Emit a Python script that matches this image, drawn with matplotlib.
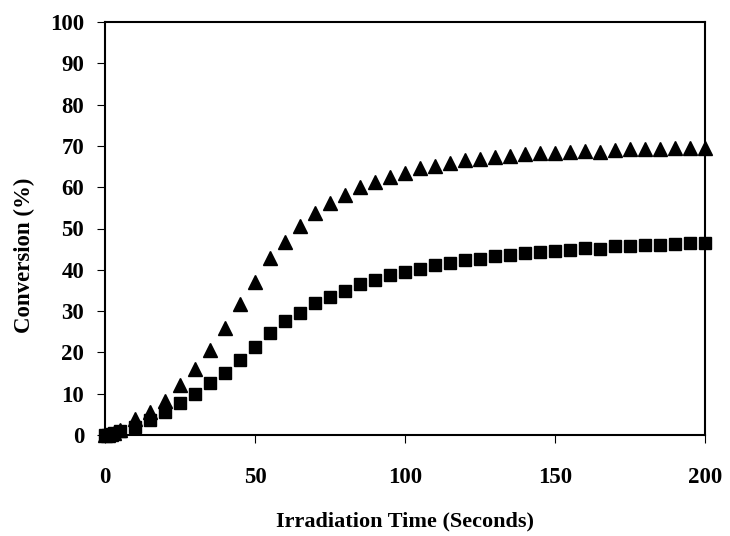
import matplotlib
matplotlib.use("Agg")
import matplotlib.pyplot as plt

time_s = [0, 1, 2, 3, 5, 10, 15, 20, 25, 30, 35, 40, 45, 50, 55, 60, 65, 70, 75, 80,
          85, 90, 95, 100, 105, 110, 115, 120, 125, 130, 135, 140, 145, 150, 155, 160,
          165, 170, 175, 180, 185, 190, 195, 200]

triangles = [0.0, 0.1, 0.3, 0.5, 1.3, 3.8, 5.6, 8.3, 12.0, 15.9, 20.6, 25.8, 31.6, 37.1,
             42.8, 46.8, 50.6, 53.7, 56.1, 58.1, 60.0, 61.2, 62.5, 63.5, 64.6, 65.1, 65.9,
             66.5, 66.8, 67.4, 67.6, 68.0, 68.3, 68.4, 68.5, 68.8, 68.6, 69.0, 69.2, 69.2,
             69.2, 69.4, 69.4, 69.5]

squares = [0.0, 0.1, 0.2, 0.4, 0.9, 2.0, 3.6, 5.6, 7.7, 9.9, 12.5, 15.1, 18.2, 21.4,
           24.6, 27.6, 29.6, 31.9, 33.5, 34.9, 36.6, 37.5, 38.7, 39.4, 40.3, 41.1, 41.7,
           42.3, 42.5, 43.3, 43.6, 44.0, 44.3, 44.5, 44.7, 45.2, 45.1, 45.8, 45.8, 46.0,
           46.0, 46.2, 46.4, 46.6]

x_ticks = [0, 50, 100, 150, 200]
y_ticks = [0, 10, 20, 30, 40, 50, 60, 70, 80, 90, 100]

plt.rcParams['font.family'] = ['Liberation Serif', 'DejaVu Serif']
plt.rcParams['font.weight'] = 'bold'

fig = plt.figure(figsize=(7.3, 5.36), dpi=100)
ax = fig.add_axes([105/730, 1 - 435/536, 600/730, 413/536])

ax.plot(time_s, triangles, linestyle='none', marker='^', markersize=9.5,
        color='black', clip_on=False, zorder=3)
ax.plot(time_s, squares, linestyle='none', marker='s', markersize=8.5,
        color='black', clip_on=False, zorder=3)

ax.set_xlim(0, 200)
ax.set_ylim(0, 100)
ax.set_xticks(x_ticks)
ax.set_yticks(y_ticks)
ax.tick_params(axis='x', direction='out', length=6, width=0.8, pad=17, labelsize=16.5)
ax.tick_params(axis='y', direction='out', length=6, width=0.8, pad=9, labelsize=16.5)
for lbl in ax.get_xticklabels() + ax.get_yticklabels():
    lbl.set_fontweight('bold')

for sp in ax.spines.values():
    sp.set_linewidth(1.5)
    sp.set_color('black')

ax.set_xlabel('Irradiation Time (Seconds)', fontsize=16, fontweight='bold')
ax.set_ylabel('Conversion (%)', fontsize=16.5, fontweight='bold')
ax.xaxis.set_label_coords(0.5, -0.184)
ax.yaxis.set_label_coords(-0.117, 0.436)

fig.savefig('out.png', dpi=100)
